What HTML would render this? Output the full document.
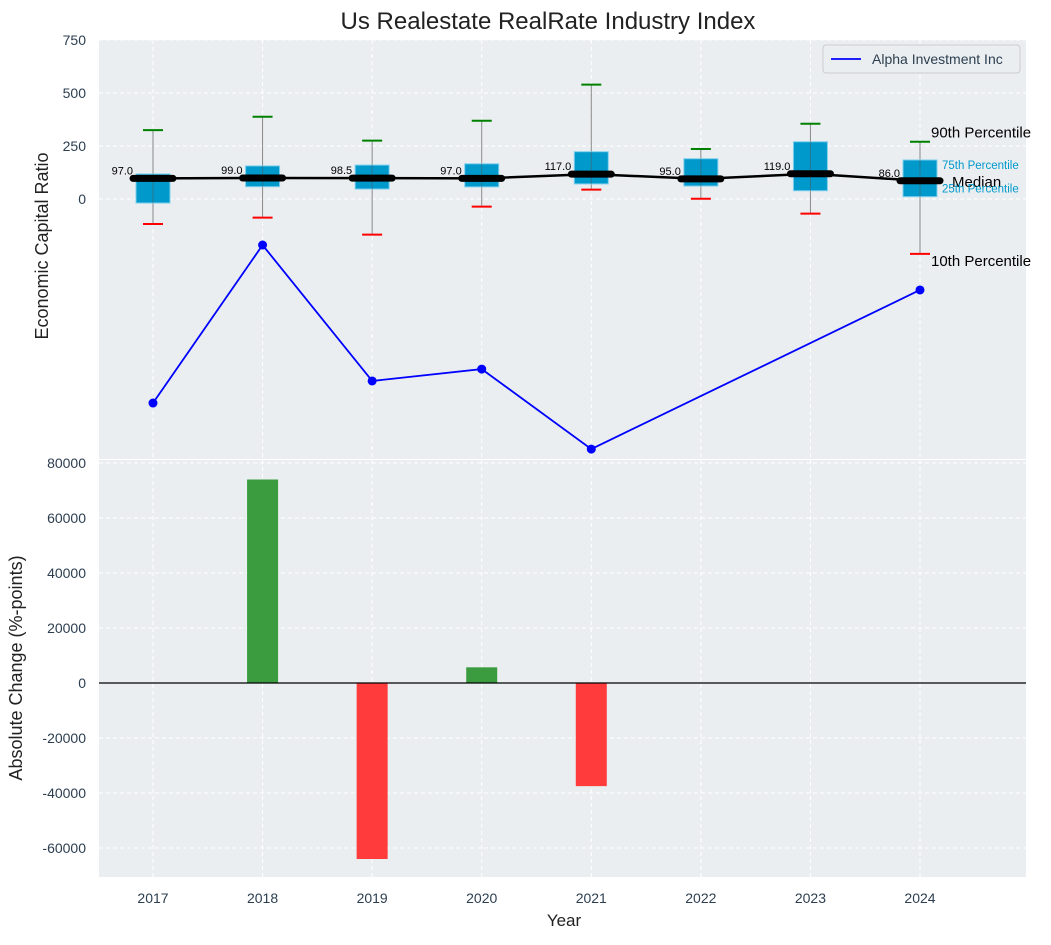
<!DOCTYPE html>
<html><head><meta charset="utf-8"><style>
body{margin:0;background:#fff;font-family:"Liberation Sans",sans-serif}
</style></head><body>
<svg id="c" width="1051" height="940" xmlns="http://www.w3.org/2000/svg" font-family="Liberation Sans, sans-serif"></svg>
<script>
const years=[2017,2018,2019,2020,2021,2022,2023,2024];
const medians=[97,99,98.5,97,117,95,119,86];
const q1=[-19,58,47,57,71,61,39,11];
const q3=[118,156,160,166,223,190,270,184];
const p10=[-118,-88,-168,-36,44,1,-69,-259];
const p90=[325,388,275,369,539,236,355,270];
const alphaYears=[2017,2018,2019,2020,2021,2024];
const alphaVals=[-962,-217,-858,-802,-1179,-429];
const changeYears=[2018,2019,2020,2021];
const changeVals=[74000,-64000,5700,-37500];
const topTicks=[0,250,500,750];
const botTicks=[-60000,-40000,-20000,0,20000,40000,60000,80000];

const S=document.getElementById('c');const NS='http://www.w3.org/2000/svg';
function el(t,a,p){const e=document.createElementNS(NS,t);for(const k in a)e.setAttribute(k,a[k]);(p||S).appendChild(e);return e;}
const L=99,R=1026;
const x=y=>153+(y-2017)*(920-153)/7;
const T0=40,T1=459,B0=460,B1=877;
const yt=v=>199-v*0.2121;
const yb=v=>683-v*(220/80000);

let e;
e=el('rect',{x:L,y:T0,width:R-L,height:T1-T0,fill:'#eaeef0'});

e=el('rect',{x:L,y:B0,width:R-L,height:B1-B0,fill:'#eaeef0'});

years.forEach(yr=>{[[T0,T1],[B0,B1]].forEach(r=>{el('line',{x1:x(yr),x2:x(yr),y1:r[0],y2:r[1],stroke:'#fff','stroke-dasharray':'4,3','stroke-width':1});});
 e=el('text',{x:x(yr),y:903,'text-anchor':'middle','font-size':14,fill:'#2c3e50'});e.textContent=yr;
 });
topTicks.forEach(v=>{el('line',{x1:L,x2:R,y1:yt(v),y2:yt(v),stroke:'#fff','stroke-dasharray':'4,3'});
 e=el('text',{x:86,y:yt(v)+5,'text-anchor':'end','font-size':14,fill:'#2c3e50'});e.textContent=v;
 });
botTicks.forEach(v=>{el('line',{x1:L,x2:R,y1:yb(v),y2:yb(v),stroke:'#fff','stroke-dasharray':'4,3'});
 e=el('text',{x:86,y:yb(v)+5,'text-anchor':'end','font-size':14,fill:'#2c3e50'});e.textContent=v;
 });
years.forEach((yr,i)=>{const cx=x(yr);
 el('line',{x1:cx,x2:cx,y1:yt(p90[i]),y2:yt(p10[i]),stroke:'#888','stroke-width':1});
 e=el('rect',{x:cx-17,y:yt(q3[i]),width:34,height:yt(q1[i])-yt(q3[i]),fill:'#0099cc',stroke:'#7fd0ee','stroke-width':1});
 
 el('line',{x1:cx,x2:cx,y1:yt(q3[i]),y2:yt(q1[i]),stroke:'#555','stroke-width':1,opacity:0.5});
 e=el('line',{x1:cx-10,x2:cx+10,y1:yt(p90[i]),y2:yt(p90[i]),stroke:'green','stroke-width':2});
 
 e=el('line',{x1:cx-10,x2:cx+10,y1:yt(p10[i]),y2:yt(p10[i]),stroke:'red','stroke-width':2});
 
});
e=el('polyline',{points:years.map((yr,i)=>x(yr)+','+yt(medians[i])).join(' '),fill:'none',stroke:'#000','stroke-width':2.5});

years.forEach((yr,i)=>{const cx=x(yr);
 e=el('line',{x1:cx-20,x2:cx+20,y1:yt(medians[i]),y2:yt(medians[i]),stroke:'#000','stroke-width':7,'stroke-linecap':'round'});
 
 e=el('text',{x:cx-20,y:yt(medians[i])-4,'text-anchor':'end','font-size':11,fill:'#000'});e.textContent=medians[i].toFixed(1);
 });
const lx=x(2024);
[['90th Percentile',lx+11,yt(p90[7])-4,15,'#000'],['10th Percentile',lx+11,yt(p10[7])+12,15,'#000'],['Median',lx+32,yt(medians[7])+6,15,'#000'],['75th Percentile',lx+22,yt(q3[7])+9,11.5,'#0099cc'],['25th Percentile',lx+22,yt(q1[7])-4,11.5,'#0099cc']].forEach(a=>{
 e=el('text',{x:a[1],y:a[2],'font-size':a[3],fill:a[4]});e.textContent=a[0];
 });
e=el('polyline',{points:alphaYears.map((yr,i)=>x(yr)+','+yt(alphaVals[i])).join(' '),fill:'none',stroke:'blue','stroke-width':1.8});

alphaYears.forEach((yr,i)=>{e=el('circle',{cx:x(yr),cy:yt(alphaVals[i]),r:4.5,fill:'blue'});
 });
changeYears.forEach((yr,i)=>{const v=changeVals[i];const y0=yb(0),y1=yb(v);
 e=el('rect',{x:x(yr)-15.5,y:Math.min(y0,y1),width:31,height:Math.abs(y1-y0),fill:v>=0?'#3a9c3e':'#ff3b3b'});
 });
el('line',{x1:L,x2:R,y1:yb(0),y2:yb(0),stroke:'#000','stroke-width':1.3});
e=el('rect',{x:823,y:45,width:197,height:28,rx:3,fill:'#eaeef0',stroke:'#ccc'});

el('line',{x1:831,x2:861,y1:59,y2:59,stroke:'blue','stroke-width':1.8});
e=el('text',{x:872,y:64,'font-size':14,fill:'#2c3e50'});e.textContent='Alpha Investment Inc';

e=el('text',{x:548,y:29,'text-anchor':'middle','font-size':24,fill:'#222'});e.textContent='Us Realestate RealRate Industry Index';

e=el('text',{x:564,y:926,'text-anchor':'middle','font-size':17,fill:'#222'});e.textContent='Year';

e=el('text',{x:0,y:0,'text-anchor':'middle','font-size':18,fill:'#222',transform:'translate(48,246) rotate(-90)'});e.textContent='Economic Capital Ratio';

e=el('text',{x:0,y:0,'text-anchor':'middle','font-size':18,fill:'#222',transform:'translate(22,668) rotate(-90)'});e.textContent='Absolute Change (%-points)';

</script>
</body></html>
